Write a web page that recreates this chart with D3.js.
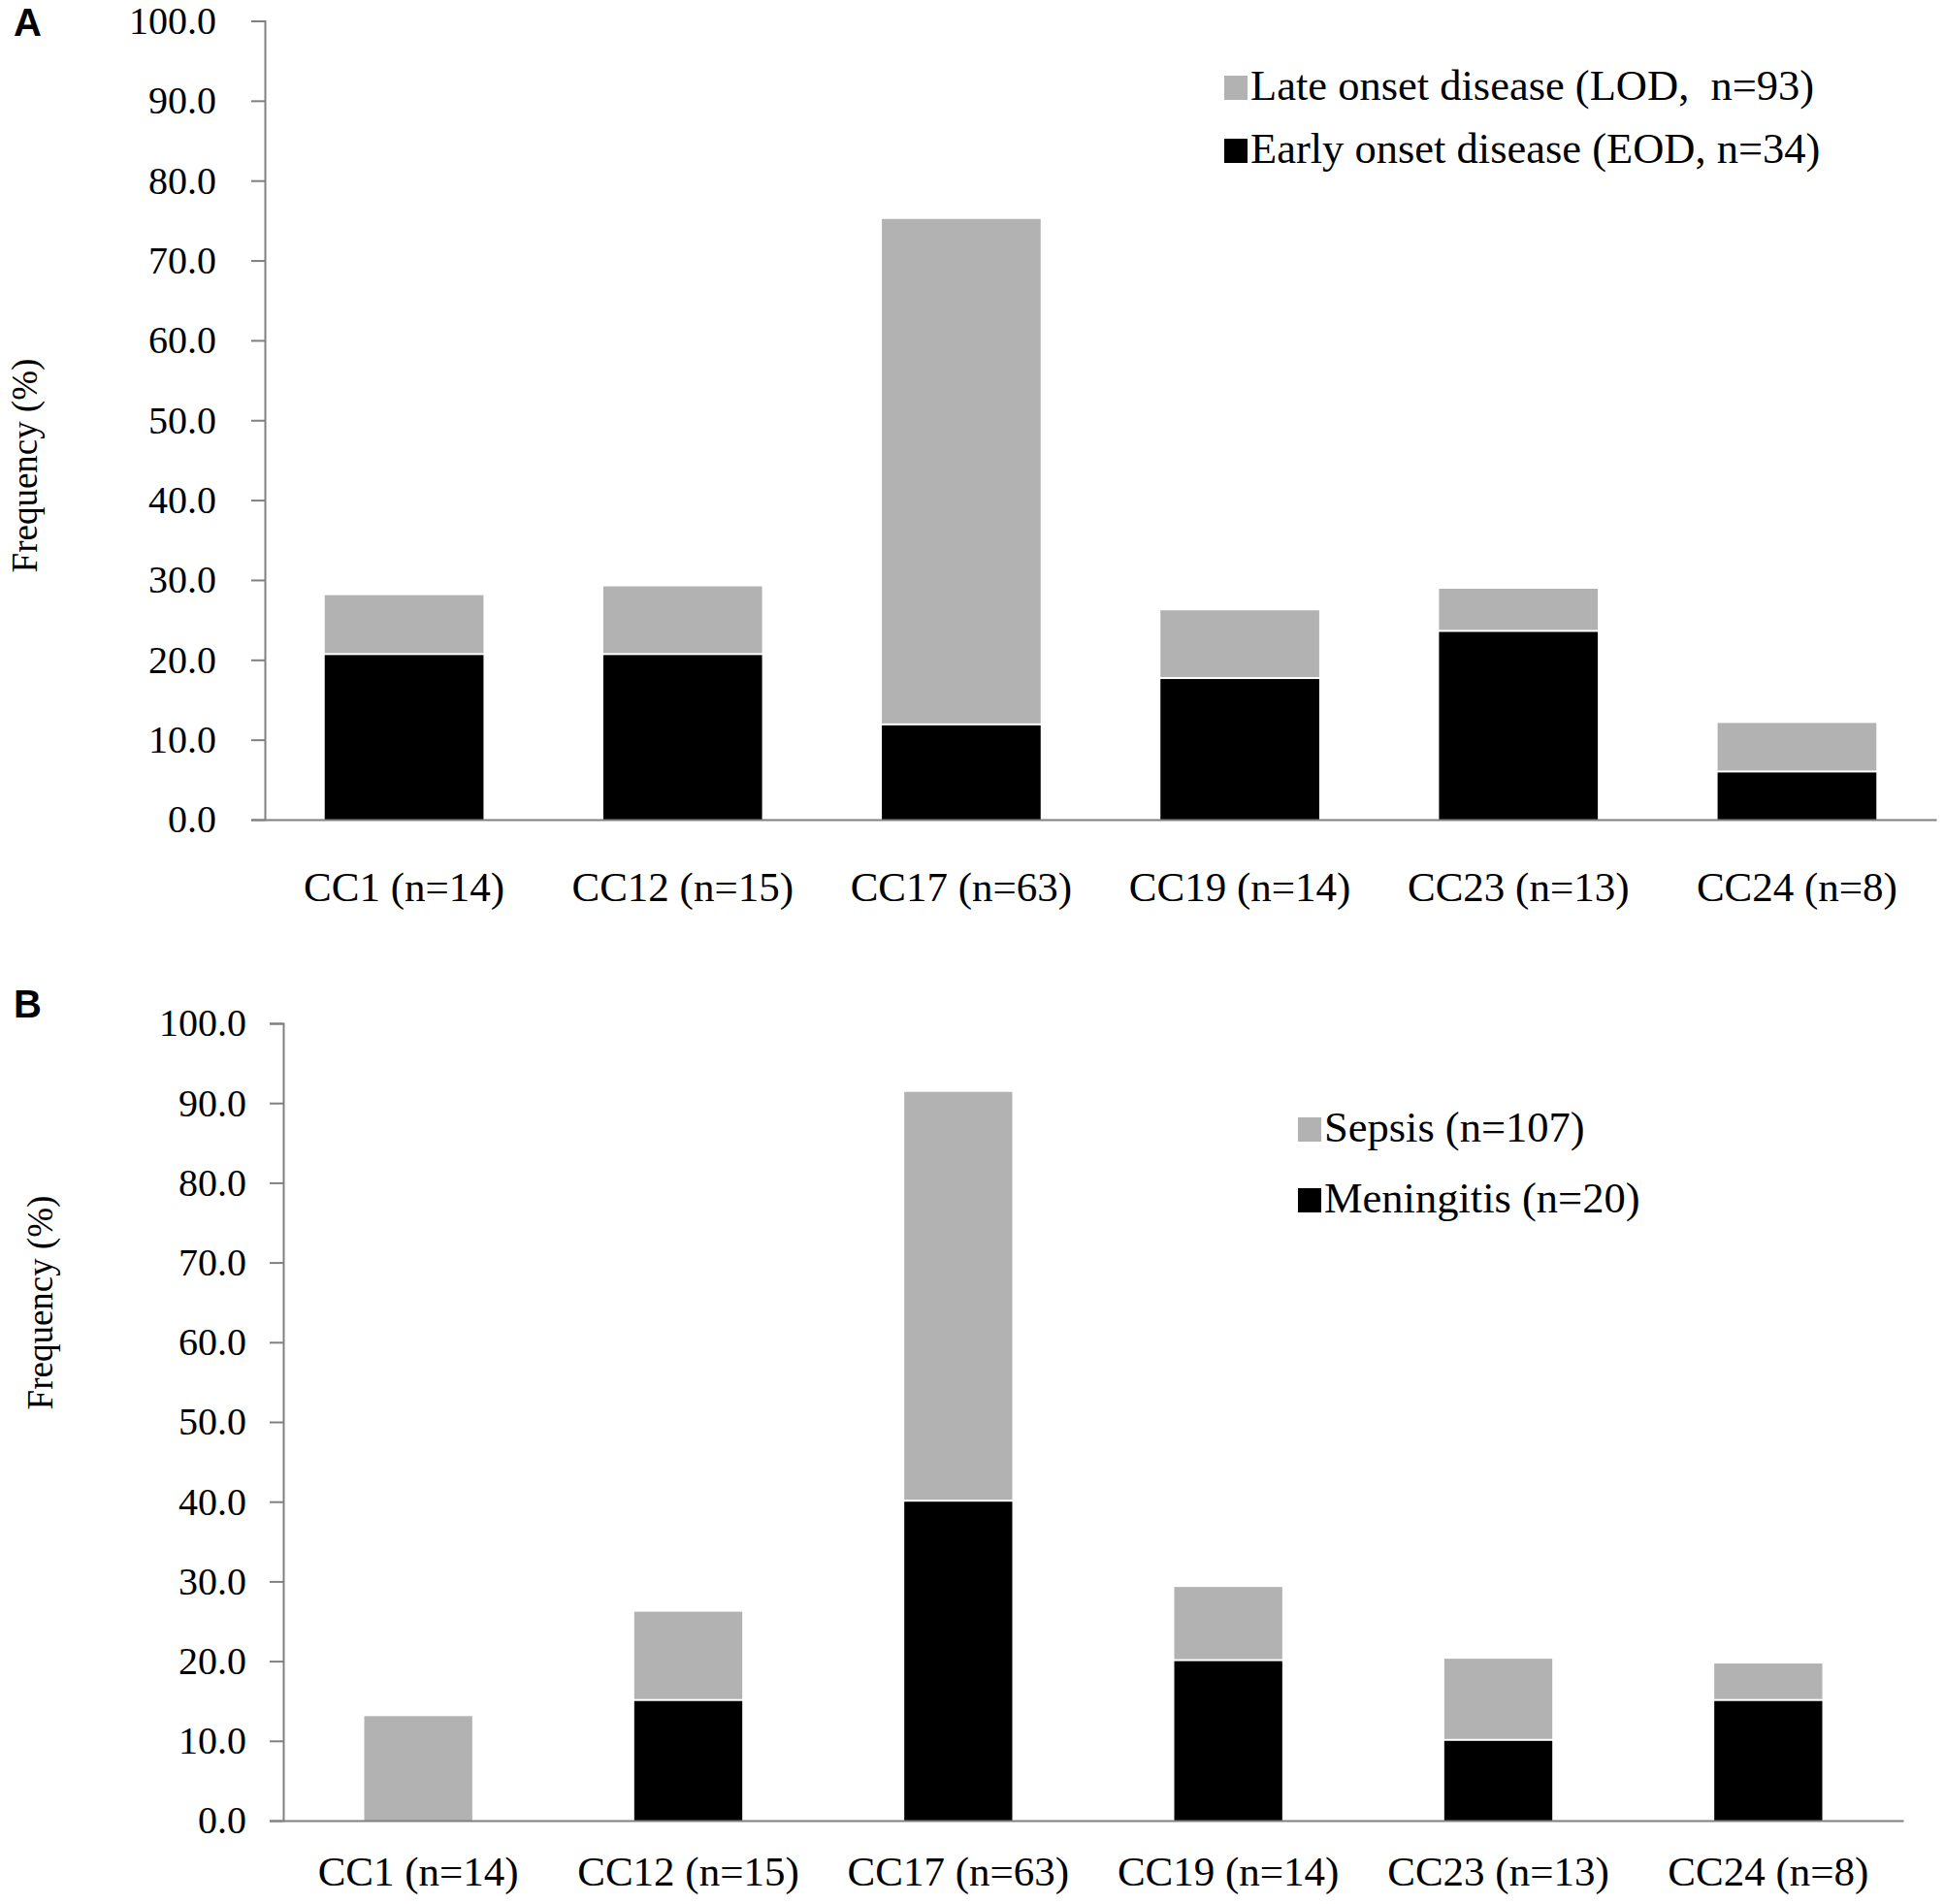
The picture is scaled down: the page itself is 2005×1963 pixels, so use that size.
<!DOCTYPE html>
<html>
<head>
<meta charset="utf-8">
<script src="https://cdn.jsdelivr.net/npm/d3@7"></script>
<style>
  html, body { margin: 0; padding: 0; background: #fff; }
  svg { display: block; }
  text { font-family: "Liberation Serif", "Times New Roman", serif; fill: #000; }
</style>
</head>
<body>
<svg id="chart" width="2005" height="1963"></svg>
<script>
// ---- Data ----
const categories = ["CC1 (n=14)", "CC12 (n=15)", "CC17 (n=63)", "CC19 (n=14)", "CC23 (n=13)", "CC24 (n=8)"];
// Panel A
const eodValues = [20.6, 20.6, 11.8, 17.6, 23.5, 5.9];
const lodValues = [7.5, 8.6, 63.4, 8.6, 5.4, 6.2];
const legendA = ["Late onset disease (LOD,\u00a0 n=93)", "Early onset disease (EOD, n=34)"];
// Panel B
const meningitisValues = [0.0, 15.0, 40.0, 20.0, 10.0, 15.0];
const sepsisValues = [13.1, 11.2, 51.4, 9.3, 10.3, 4.7];
const legendB = ["Sepsis (n=107)", "Meningitis (n=20)"];
// Axis
const yTicks = [0, 10, 20, 30, 40, 50, 60, 70, 80, 90, 100];
const yLabel = "Frequency (%)";

const svg = d3.select("#chart");
const GRAY = "#b2b2b2", BLACK = "#000000", AXIS = "#808080";

function drawPanel(cfg) {
  const g = svg.append("g");
  const x = d3.scaleBand().domain(categories).range([cfg.x0, cfg.x1]).paddingInner(cfg.pad).paddingOuter(cfg.pad / 2);
  const y = d3.scaleLinear().domain([0, 100]).range([cfg.yBottom, cfg.yTop]);

  const rows = categories.map((c, i) => ({ cat: c, bottom: cfg.bottomVals[i], top: cfg.topVals[i] }));
  const stack = d3.stack().keys(["bottom", "top"])(rows);
  const colors = { bottom: BLACK, top: GRAY };

  stack.forEach(layer => {
    g.append("g").selectAll("rect").data(layer).join("rect")
      .attr("x", d => x(d.data.cat))
      .attr("width", x.bandwidth())
      .attr("y", d => y(d[1]))
      .attr("height", d => {
        let h = y(d[0]) - y(d[1]);
        if (layer.key === "top" && d[0] > 0) h -= 2; // light separator
        return Math.max(0, h);
      })
      .attr("fill", colors[layer.key]);
  });

  // Y axis
  const yAxis = d3.axisLeft(y).tickValues(yTicks).tickFormat(d3.format(".1f")).tickSize(14).tickPadding(cfg.tickPad);
  const ya = g.append("g").attr("transform", `translate(${cfg.x0},0)`).call(yAxis);
  ya.select(".domain").attr("stroke", AXIS).attr("stroke-width", 2);
  ya.selectAll(".tick line").attr("stroke", AXIS).attr("stroke-width", 2);
  ya.selectAll(".tick text").style("font-family", "Liberation Serif").style("font-size", "40px").attr("fill", "#000");

  // X axis
  const xAxis = d3.axisBottom(x).tickSize(0).tickPadding(cfg.xLabPad);
  const xa = g.append("g").attr("transform", `translate(0,${cfg.yBottom})`).call(xAxis);
  xa.select(".domain").attr("stroke", AXIS).attr("stroke-width", 2);
  xa.selectAll(".tick text").style("font-family", "Liberation Serif").style("font-size", "43px").attr("fill", "#000");

  // Y label
  g.append("text")
    .attr("transform", `translate(${cfg.yLabX},${cfg.yLabY}) rotate(-90)`)
    .attr("text-anchor", "middle")
    .attr("dominant-baseline", "central")
    .style("font-size", "37px")
    .text(yLabel);

  // Panel letter
  g.append("text")
    .attr("x", 14).attr("y", cfg.letterY)
    .style("font-family", "Liberation Sans, Arial, sans-serif")
    .style("font-weight", "bold").style("font-size", "40px")
    .text(cfg.letter);

  // Legend
  const lg = g.append("g");
  cfg.legend.forEach((lab, i) => {
    const by = cfg.legY[i];
    lg.append("rect").attr("x", cfg.legX).attr("y", by - 25).attr("width", 24).attr("height", 25)
      .attr("fill", i === 0 ? GRAY : BLACK);
    lg.append("text").attr("x", cfg.legX + 27).attr("y", by).style("font-size", "44.5px").text(lab);
  });
}

drawPanel({
  letter: "A", letterY: 37,
  x0: 273, x1: 1996, pad: 0.43, yTop: 21.5, yBottom: 845,
  tickPad: 36, xLabPad: 53,
  bottomVals: eodValues, topVals: lodValues,
  yLabX: 25, yLabY: 480,
  legend: legendA, legX: 1262, legY: [103, 168]
});

drawPanel({
  letter: "B", letterY: 1049,
  x0: 292, x1: 1962, pad: 0.6, yTop: 1055, yBottom: 1877,
  tickPad: 24, xLabPad: 36,
  bottomVals: meningitisValues, topVals: sepsisValues,
  yLabX: 41, yLabY: 1343,
  legend: legendB, legX: 1338, legY: [1177, 1250]
});
</script>
</body>
</html>
